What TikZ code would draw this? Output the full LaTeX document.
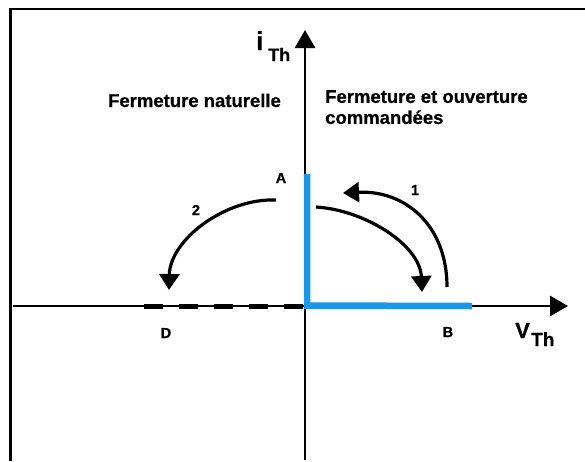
\documentclass[tikz,border=0pt]{standalone}
\usepackage{fontspec}
\setmainfont{Liberation Sans}[BoldFeatures={FakeBold=0.6}]
\usetikzlibrary{arrows.meta}
\definecolor{thblue}{RGB}{28,150,232}
\tikzset{
  axis/.style={line width=2.8pt,-{Triangle[width=20pt,length=18pt]}},
  curvearrow/.style={line width=3.2pt,-{Triangle[width=20pt,length=16pt]}},
  lbl/.style={inner sep=0pt,anchor=base,font=\fontsize{14.5}{14.5}\selectfont\bfseries},
  title/.style={inner sep=0pt,font=\fontsize{18.5}{21}\selectfont\bfseries},
  frameline/.style={line width=2.2pt},
}
\begin{document}
\begin{tikzpicture}[x=1pt,y=-1pt]
\useasboundingbox (0,0) rectangle (585,461);
% frame (only top and left edges visible)
\coordinate (fbl) at (10.5,461);
\coordinate (ftl) at (10.5,9);
\coordinate (ftr) at (585,9);
\draw[frameline] (fbl) -- (ftl) -- (ftr);
% axes
\coordinate (O) at (306,306);
\coordinate (xl) at (13,306);
\coordinate (xr) at (568,306);
\coordinate (yb) at (305,460);
\coordinate (yt) at (305,30);
\draw[axis] (xl) -- (xr);
\draw[axis] (yb) -- (yt);
% dashed segment towards D
\coordinate (dstart) at (144,306);
\draw[line width=5pt,dash pattern=on 19pt off 16pt] (dstart) -- (O);
% blue characteristic
\coordinate (Atop) at (307,174);
\coordinate (Bend) at (472,306);
\draw[thblue,line width=6.5pt,line join=miter] (Atop) -- (307,305.5) -- (Bend);
% labels on axes
\node[inner sep=0pt,anchor=base west] (ilab) at (256,50)
  {\fontsize{26}{26}\selectfont\bfseries i};
\node[inner sep=0pt,anchor=base west] (ThI) at (268,61)
  {\fontsize{18}{18}\selectfont\bfseries Th};
\node[inner sep=0pt,anchor=base west] (vlab) at (515,338)
  {\fontsize{22}{22}\selectfont\bfseries V};
\node[inner sep=0pt,anchor=base west] (ThV) at (531,346)
  {\fontsize{19}{19}\selectfont\bfseries Th};
% point labels
\node[lbl] (A) at (281,183) {A};
\node[lbl] (B) at (448,337) {B};
\node[lbl] (D) at (166,338) {D};
\node[lbl] (n1) at (415,195) {1};
\node[lbl] (n2) at (196,215) {2};
% region titles
\node[title,anchor=base] (fn) at (194.5,107) {Fermeture naturelle};
\node[title,anchor=north west,align=left] (fc) at (325,90)
  {Fermeture et ouverture\\commandées};
% curved arrows
\coordinate (s1) at (447,287);
\coordinate (e1) at (343,193);
\draw[curvearrow] (s1) .. controls (447,225) and (405,190) .. (e1);
\coordinate (s3) at (316,207);
\coordinate (e3) at (422,292);
\draw[curvearrow] (s3) .. controls (365,210) and (420,245) .. (e3);
\coordinate (s2) at (276,200);
\coordinate (e2) at (169,290);
\draw[curvearrow] (s2) .. controls (225,198) and (170,240) .. (e2);
\end{tikzpicture}
\end{document}
